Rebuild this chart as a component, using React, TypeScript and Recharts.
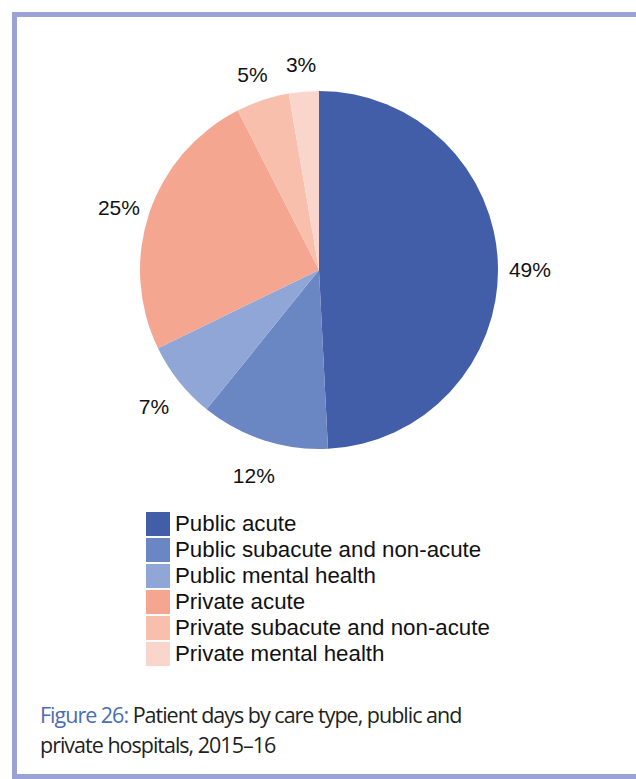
import { PieChart, Pie, Cell } from "recharts"

const categories = [
  "Public acute",
  "Public subacute and non-acute",
  "Public mental health",
  "Private acute",
  "Private subacute and non-acute",
  "Private mental health",
]
const shares = [49.2, 11.6, 7.0, 24.7, 4.8, 2.7]
const COLORS = ["#435ea8", "#6a86c3", "#8fa6d6", "#f5a690", "#f8bfad", "#fad5cc"]

const data = categories.map((name, i) => ({ name, value: shares[i] }))

const RAD = Math.PI / 180

const renderLabel = (props: any) => {
  const { cx, cy, midAngle, outerRadius, percent } = props
  const r = outerRadius + 32
  const x = cx + r * Math.cos(-midAngle * RAD)
  const y = cy + r * Math.sin(-midAngle * RAD) + 5
  return (
    <text x={x} y={y} textAnchor="middle" dominantBaseline="central" fill="#111" fontSize={21} fontFamily="'Liberation Sans', Arial, sans-serif">
      {`${Math.round(percent * 100)}%`}
    </text>
  )
}

export default function App() {
  return (
    <div style={{ position: "absolute", left: 0, top: 0, width: 636, height: 779, overflow: "hidden", background: "#fff" }}>
      <div
        style={{
          position: "absolute",
          left: 12,
          top: 12,
          width: 640,
          height: 757,
          border: "5px solid #9ba3d4",
        }}
      />
      <div style={{ position: "absolute", left: 0, top: 0 }}>
        <PieChart width={636} height={500} margin={{ top: 0, right: 0, bottom: 0, left: 0 }}>
          <Pie
            data={data}
            dataKey="value"
            nameKey="name"
            cx={319}
            cy={270}
            outerRadius={179}
            startAngle={90}
            endAngle={-270}
            stroke="none"
            label={renderLabel}
            labelLine={false}
            isAnimationActive={false}
          >
            {data.map((d, i) => (
              <Cell key={`cell-${d.name}`} fill={COLORS[i]} />
            ))}
          </Pie>
        </PieChart>
      </div>
      {/* legend */}
      <div
        style={{
          position: "absolute",
          left: 146,
          top: 511,
          fontFamily: "'Liberation Sans', Arial, sans-serif",
          fontSize: 22.3,
          color: "#111",
        }}
      >
        {data.map((d, i) => (
          <div key={d.name} style={{ display: "flex", alignItems: "center", height: 26 }}>
            <span style={{ width: 24, height: 24, background: COLORS[i], marginRight: 5, flex: "none" }} />
            <span style={{ lineHeight: "26px", whiteSpace: "nowrap" }}>{d.name}</span>
          </div>
        ))}
      </div>
      <div
        style={{
          position: "absolute",
          left: 40,
          top: 700,
          fontFamily: "'Open Sans', 'Noto Sans', sans-serif",
          fontSize: 21.5,
          lineHeight: "30px",
          letterSpacing: -1,
          color: "#231f20",
        }}
      >
        <span style={{ color: "#4a6db5" }}>Figure 26:</span> Patient days by care type, public and
        <br />
        private hospitals, 2015–16
      </div>
    </div>
  )
}
